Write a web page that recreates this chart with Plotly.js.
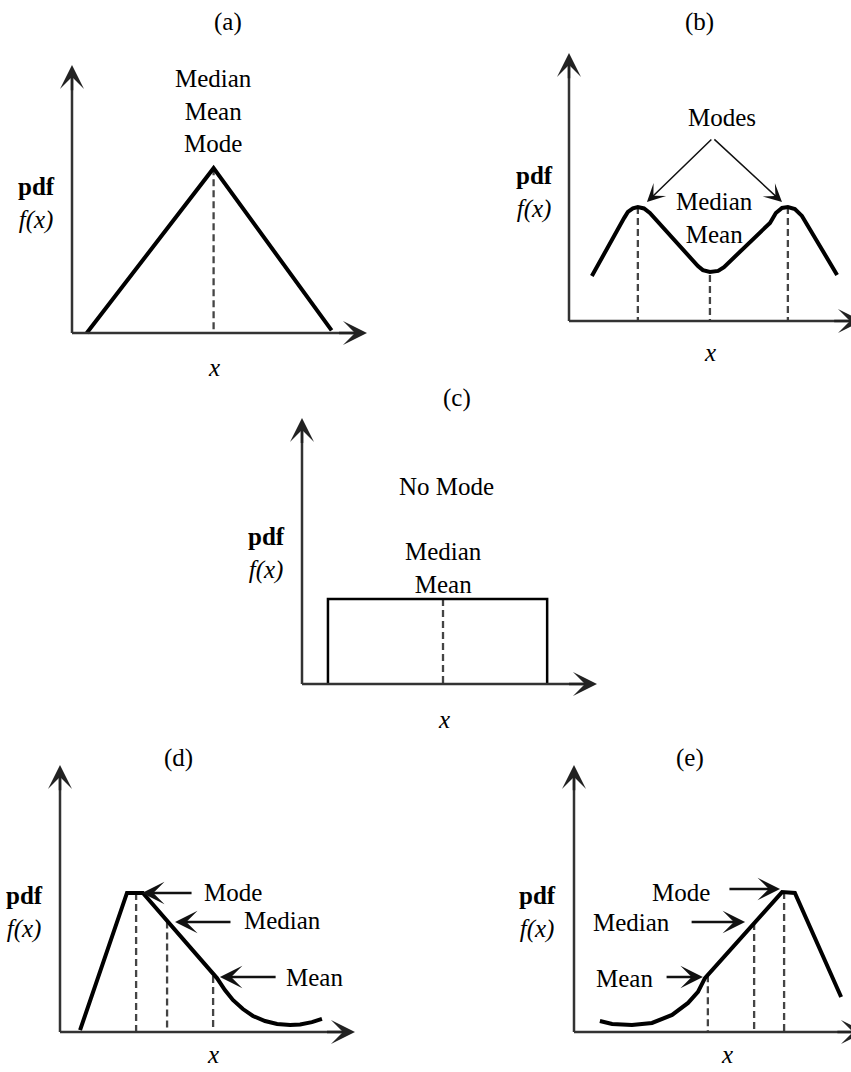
<!DOCTYPE html>
<html><head><meta charset="utf-8">
<script src="https://cdn.plot.ly/plotly-3.0.1.min.js"></script>
<style>html,body{margin:0;padding:0;background:#fff}</style>
</head><body><div id="chart" style="width:851px;height:1072px"></div>
<script>
// ================= DATA (panel units: each axis arrow runs 0..10) =================
// (a) symmetric, unimodal
const aCurveX = [0.5, 4.8, 8.8];
const aCurveY = [0, 6.15, 0.1];
const aDashX = [4.8];
const aDashTop = [6.15];
const aCenterLabel = 'Median<br>Mean<br>Mode';

// (b) bimodal
const bCurveX = [0.78, 1.88, 2.01, 2.18, 2.35, 2.56, 2.76, 4.40, 4.57, 4.81, 5.09, 5.29, 6.86, 7.06, 7.27, 7.47, 7.71, 7.95, 9.15];
const bCurveY = [1.68, 3.84, 4.07, 4.20, 4.25, 4.20, 4.03, 2.05, 1.90, 1.83, 1.87, 2.01, 3.66, 4.03, 4.22, 4.25, 4.18, 3.92, 1.72];
const bDashX = [2.35, 4.81, 7.47];
const bDashTop = [4.25, 1.72, 4.25];
const bModesLabel = 'Modes';
const bCenterLabel = 'Median<br>Mean';

// (c) uniform
const cRectX = [0.88, 0.88, 8.31, 8.31];
const cRectY = [0, 3.2, 3.2, 0];
const cDashX = [4.78];
const cDashTop = [3.2];
const cNoModeLabel = 'No Mode';
const cCenterLabel = 'Median<br>Mean';

// (d) right-skewed
const dCurveX = [0.68, 2.27, 2.81, 5.32, 5.59, 5.86, 6.20, 6.54, 6.95, 7.36, 7.80, 8.14, 8.54, 8.88];
const dCurveY = [0.07, 5.21, 5.21, 2.02, 1.57, 1.20, 0.86, 0.60, 0.41, 0.30, 0.26, 0.28, 0.37, 0.49];
const dDashX = [2.58, 3.63, 5.19];
const dDashTop = [5.21, 4.14, 2.10];
const dStatLabels = ['Mode', 'Median', 'Mean'];

// (e) left-skewed
const eCurveX = [0.89, 1.31, 1.99, 2.68, 3.37, 3.92, 4.26, 4.50, 7.15, 7.59, 9.18];
const eCurveY = [0.41, 0.30, 0.26, 0.34, 0.64, 1.09, 1.50, 2.02, 5.24, 5.21, 1.31];
const eDashX = [7.22, 6.19, 4.60];
const eDashTop = [5.24, 4.08, 2.13];
const eStatLabels = ['Mode', 'Median', 'Mean'];

const panelTitles = ['(a)', '(b)', '(c)', '(d)', '(e)'];
const yAxisLabel = '<b>pdf</b><br><i>f(x)</i>';
const xAxisLabel = '<i>x</i>';

// ================= LAYOUT GEOMETRY =================
const W = 851, H = 1072;
const FONT = 'Liberation Serif, Times New Roman, serif';
const FSIZE = 25;
const panels = [
  {id: '',  box: [0, 425, 0, 380],    origin: [72, 333],  tip: [367, 65]},
  {id: '2', box: [425, 851, 0, 380],  origin: [569, 321], tip: [862, 53]},
  {id: '3', box: [200, 640, 380, 740], origin: [302, 684], tip: [597, 418]},
  {id: '4', box: [0, 425, 740, 1072], origin: [60, 1032], tip: [355, 765]},
  {id: '5', box: [425, 851, 740, 1072], origin: [574, 1032], tip: [865, 765]}
];

const layout = {
  width: W, height: H, margin: {l: 0, r: 0, t: 0, b: 0},
  paper_bgcolor: '#fff', plot_bgcolor: 'rgba(0,0,0,0)',
  showlegend: false, annotations: [], shapes: []
};
const traces = [];

function txt(p, x, y, text, extra) {
  return Object.assign({xref: p.x, yref: p.y, x: x, y: y, text: text, showarrow: false,
    font: {family: FONT, size: FSIZE, color: '#000'}}, extra || {});
}
function arrow(p, x0, y0, x1, y1, w, size, color) {
  return {xref: p.x, yref: p.y, axref: p.x, ayref: p.y, x: x1, y: y1, ax: x0, ay: y0,
    text: '', showarrow: true, arrowhead: 3, arrowwidth: w, arrowsize: size,
    arrowcolor: color || '#111', standoff: 0, startstandoff: 0};
}
function curve(p, xs, ys, w) {
  traces.push({type: 'scatter', mode: 'lines', x: xs, y: ys, xaxis: p.x, yaxis: p.y,
    line: {color: '#000', width: w || 4, simplify: false}, hoverinfo: 'skip', cliponaxis: false});
}
function dashes(p, xs, tops) {
  xs.forEach((xv, i) => {
    traces.push({type: 'scatter', mode: 'lines', x: [xv, xv], y: [tops[i], 0], xaxis: p.x, yaxis: p.y,
      line: {color: '#444', width: 2.3, dash: '7px,4px'}, hoverinfo: 'skip'});
  });
}

panels.forEach(p => {
  const [L, R, T, B] = p.box;
  const [ox, oy] = p.origin;
  const sx = (p.tip[0] - ox) / 10, sy = (oy - p.tip[1]) / 10;
  const xa = 'xaxis' + p.id, ya = 'yaxis' + p.id;
  p.x = 'x' + p.id; p.y = 'y' + p.id;
  layout[xa] = {domain: [L / W, R / W], range: [(L - ox) / sx, (R - ox) / sx], visible: false, fixedrange: true, anchor: p.y};
  layout[ya] = {domain: [1 - B / H, 1 - T / H], range: [(oy - B) / sy, (oy - T) / sy], visible: false, fixedrange: true, anchor: p.x};
  // axis lines with arrowheads
  layout.shapes.push({type: 'line', xref: p.x, yref: p.y, x0: 0, y0: 0, x1: 9.6, y1: 0, line: {color: '#333', width: 2.5}});
  layout.shapes.push({type: 'line', xref: p.x, yref: p.y, x0: 0, y0: 0, x1: 0, y1: 9.6, line: {color: '#333', width: 2.5}});
  layout.annotations.push(arrow(p, 9, 0, 10, 0, 2.5, 1.6, '#222'));
  layout.annotations.push(arrow(p, 0, 9, 0, 10, 2.5, 1.6, '#222'));
});

const [pa, pb, pc, pd, pe] = panels;

// ---- titles and axis labels ----
const titlePos = [[5.29, 11.6], [4.47, 11.16], [5.25, 10.75], [4.0, 10.26], [3.99, 10.26]];
const yLabPos = [[-1.19, 4.85], [-1.19, 4.81], [-1.22, 4.89], [-1.22, 4.46], [-1.24, 4.46]];
const xLabPos = [[4.81, -1.27], [4.81, -1.19], [4.80, -1.35], [5.19, -0.86], [5.26, -0.86]];
panels.forEach((p, i) => {
  layout.annotations.push(txt(p, titlePos[i][0], titlePos[i][1], panelTitles[i]));
  layout.annotations.push(txt(p, yLabPos[i][0], yLabPos[i][1], yAxisLabel));
  layout.annotations.push(txt(p, xLabPos[i][0], xLabPos[i][1], xAxisLabel));
});

// ---- (a) ----
dashes(pa, aDashX, aDashTop);
curve(pa, aCurveX, aCurveY, 4);
layout.annotations.push(txt(pa, 4.81, 8.28, aCenterLabel));

// ---- (b) ----
dashes(pb, bDashX, bDashTop);
curve(pb, bCurveX, bCurveY, 4);
layout.annotations.push(txt(pb, 5.22, 7.61, bModesLabel));
layout.annotations.push(txt(pb, 4.98, 3.86, bCenterLabel));
layout.annotations.push(arrow(pb, 4.91, 6.83, 2.66, 4.44, 1.5, 2.0));
layout.annotations.push(arrow(pb, 4.91, 6.83, 7.27, 4.44, 1.5, 2.0));

// ---- (c) ----
dashes(pc, cDashX, cDashTop);
curve(pc, cRectX, cRectY, 2.5);
layout.annotations.push(txt(pc, 4.90, 7.41, cNoModeLabel));
layout.annotations.push(txt(pc, 4.80, 4.36, cCenterLabel));

// ---- (d) ----
dashes(pd, dDashX, dDashTop);
curve(pd, dCurveX, dCurveY, 4);
const dArrows = [[4.51, 5.21, 2.78, 5.21], [5.83, 4.12, 3.90, 4.12], [7.36, 2.06, 5.42, 2.06]];
const dTextPos = [[4.81, 5.24], [6.17, 4.16], [7.59, 2.06]];
dStatLabels.forEach((s, i) => {
  layout.annotations.push(arrow(pd, ...dArrows[i], 2.5, 1.5));
  layout.annotations.push(txt(pd, dTextPos[i][0], dTextPos[i][1], s, {xanchor: 'left'}));
});

// ---- (e) ----
dashes(pe, eDashX, eDashTop);
curve(pe, eCurveX, eCurveY, 4);
const eArrows = [[5.29, 5.36, 7.08, 5.36], [3.99, 4.12, 5.88, 4.12], [3.13, 2.06, 4.43, 2.06]];
const eTextPos = [[4.74, 5.21], [3.37, 4.12], [2.78, 2.02]];
eStatLabels.forEach((s, i) => {
  layout.annotations.push(arrow(pe, ...eArrows[i], 2.5, 1.5));
  layout.annotations.push(txt(pe, eTextPos[i][0], eTextPos[i][1], s, {xanchor: 'right'}));
});

Plotly.newPlot('chart', traces, layout, {staticPlot: true, displayModeBar: false});
</script>
</body></html>
